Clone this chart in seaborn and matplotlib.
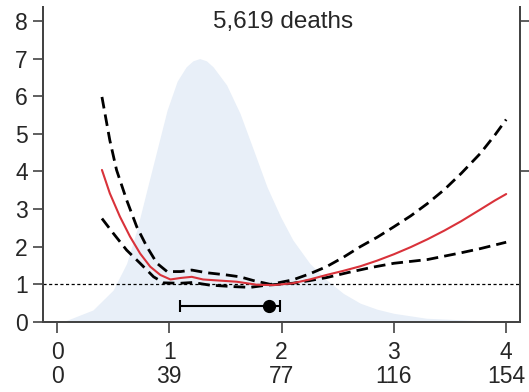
import numpy as np
import pandas as pd
import matplotlib
matplotlib.use("Agg")
import matplotlib.pyplot as plt
import seaborn as sb

# exposure distribution (background shading)
dens_x = [0.05, 0.09, 0.32, 0.50, 0.62, 0.71, 0.80, 0.89, 0.98, 1.07, 1.15, 1.21,
          1.27, 1.33, 1.39, 1.51, 1.63, 1.75, 1.87, 1.99, 2.10, 2.25, 2.40, 2.55,
          2.70, 2.85, 3.00, 3.29, 3.77, 4.12]
dens_y = [0.0, 0.05, 0.32, 0.85, 1.56, 2.44, 3.51, 4.57, 5.63, 6.40, 6.78, 6.94,
          7.0, 6.94, 6.78, 6.30, 5.54, 4.57, 3.59, 2.80, 2.18, 1.56, 1.12, 0.76,
          0.50, 0.34, 0.23, 0.10, 0.035, 0.0]

# relative risk curve and 95% CI
rr_x = [0.40, 0.47, 0.56, 0.65, 0.74, 0.83, 0.92, 1.01, 1.10, 1.20, 1.30, 1.45,
        1.60, 1.78, 1.93, 2.10, 2.25, 2.40, 2.55, 2.70, 2.85, 3.00, 3.15, 3.30,
        3.45, 3.60, 3.77, 3.90, 4.00]
rr = [4.04, 3.42, 2.80, 2.27, 1.82, 1.47, 1.25, 1.13, 1.17, 1.20, 1.13, 1.10,
      1.07, 0.99, 0.98, 1.03, 1.13, 1.25, 1.36, 1.48, 1.63, 1.80, 1.99, 2.20,
      2.43, 2.68, 2.99, 3.23, 3.40]

hi_x = [0.40, 0.47, 0.53, 0.62, 0.71, 0.80, 0.89, 0.98, 1.10, 1.20, 1.33, 1.51,
        1.63, 1.75, 1.90, 2.10, 2.25, 2.40, 2.55, 2.70, 2.85, 3.00, 3.15, 3.30,
        3.45, 3.60, 3.77, 3.90, 4.00]
hi = [5.98, 4.83, 4.04, 3.24, 2.53, 2.00, 1.56, 1.34, 1.34, 1.38, 1.31, 1.25,
      1.20, 1.10, 1.00, 1.12, 1.28, 1.47, 1.72, 2.00, 2.25, 2.53, 2.82, 3.15,
      3.52, 3.95, 4.48, 4.97, 5.38]

lo_x = [0.40, 0.50, 0.62, 0.74, 0.86, 0.95, 1.10, 1.21, 1.36, 1.57, 1.72, 1.87,
        2.10, 2.25, 2.40, 2.60, 2.80, 3.00, 3.30, 3.60, 3.77, 4.00]
lo = [2.75, 2.36, 1.91, 1.56, 1.20, 1.04, 1.03, 1.05, 0.98, 0.94, 0.92, 0.98,
      1.03, 1.10, 1.18, 1.32, 1.45, 1.56, 1.66, 1.84, 1.95, 2.12]

# point estimate with interval
pt_x = 1.89
pt_y = 0.43
pt_lo = 1.095
pt_hi = 1.99

xticks = [0, 1, 2, 3, 4]
xlabels_top = ["0", "1", "2", "3", "4"]
xlabels_bot = ["0", "39", "77", "116", "154"]

sb.set_style("ticks")
plt.rcParams['font.family'] = ['Liberation Sans', 'DejaVu Sans']

fig = plt.figure(figsize=(5.29, 3.92), dpi=100)
ax = fig.add_axes([43 / 529, 1 - 322 / 392, 477 / 529, 315 / 392])

ax.fill_between(dens_x, dens_y, color="#e8eff8", lw=0, zorder=0)
ax.axhline(1, color="black", lw=0.9, ls=(0, (2.5, 2)), zorder=1)

df = pd.DataFrame({"x": rr_x, "y": rr})
sb.lineplot(data=df, x="x", y="y", ax=ax, color="#d9323a", lw=1.5, zorder=3)
sb.lineplot(x=hi_x, y=hi, ax=ax, color="black", lw=2.0, zorder=2,
            linestyle=(0, (4.2, 2.2)))
sb.lineplot(x=lo_x, y=lo, ax=ax, color="black", lw=2.0, zorder=2,
            linestyle=(0, (4.2, 2.2)))

ax.errorbar([pt_x], [pt_y], xerr=[[pt_x - pt_lo], [pt_hi - pt_x]], fmt="o",
            color="black", ms=8.5, lw=1.5, capsize=4, capthick=1.5, zorder=4)

ax.text(2.01, 7.97, "5,619 deaths", ha="center", va="center", fontsize=17.5)

ax.set_xlim(-0.125, 4.123)
ax.set_ylim(0, 8.37)
ax.set_xticks(xticks)
ax.set_xticklabels([a + "\n" + b for a, b in zip(xlabels_top, xlabels_bot)],
                   linespacing=1.05)
ax.set_yticks(range(9))
ax.set_xlabel("")
ax.set_ylabel("")
ax.tick_params(axis="both", labelsize=16.5, color="#444444", width=1.2)
ax.tick_params(axis="x", length=8, pad=6)
ax.tick_params(axis="y", length=7, pad=4)

ax2 = ax.twinx()
ax2.set_ylim(0, 8.37)
ax2.set_yticks([4, 8])
ax2.set_yticklabels([])
ax2.tick_params(axis="y", length=8, color="#444444", width=1.2)

for a in (ax, ax2):
    for s in a.spines.values():
        s.set_color("#444444")
        s.set_linewidth(1.4)
ax2.spines["top"].set_visible(False)
ax.spines["top"].set_visible(False)

fig.savefig("out.png", dpi=100)
